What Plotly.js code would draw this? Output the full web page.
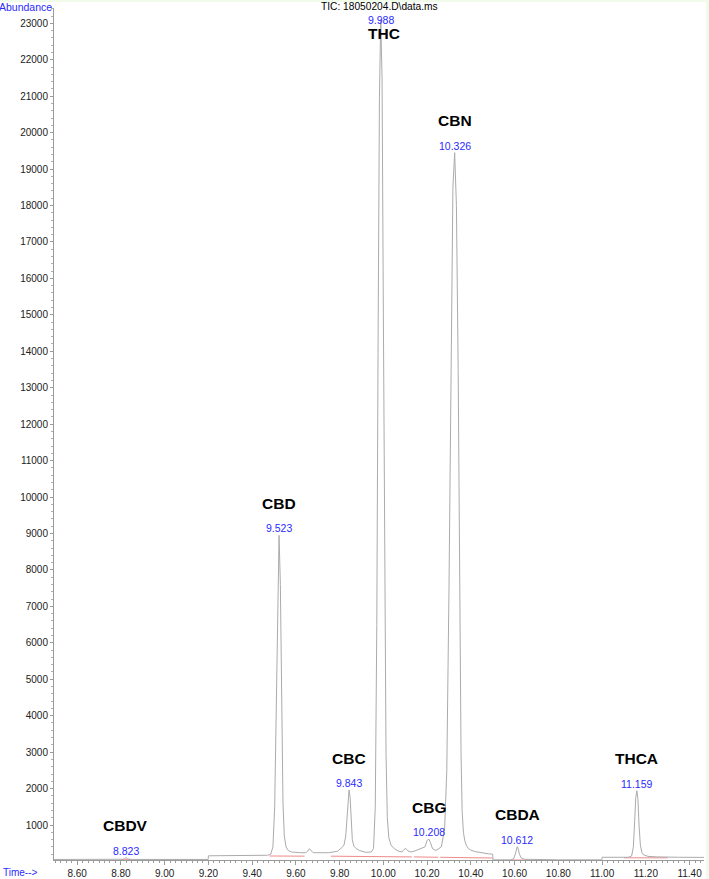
<!DOCTYPE html>
<html>
<head>
<meta charset="utf-8">
<script src="https://cdn.plot.ly/plotly-3.0.1.min.js"></script>
<style>
  html, body { margin: 0; padding: 0; background: #f1fbe9; width: 709px; height: 879px; overflow: hidden; }
  #chart { position: absolute; left: 0px; top: 2px; width: 706px; height: 877px; }
</style>
</head>
<body>
<div id="chart"></div>
<script>
// ---- Data ----
const chartTitle = 'TIC: 18050204.D\\data.ms';
const yLabel = 'Abundance';
const xLabel = 'Time-->';

// Total ion chromatogram (time in min, abundance)
const times = [
  8.494, 8.60, 8.70, 8.80, 8.81, 8.816, 8.823, 8.830, 8.837, 8.85, 9.00, 9.10, 9.199, 9.200,
  9.30, 9.40, 9.47, 9.485, 9.495, 9.503, 9.510, 9.517, 9.523, 9.529, 9.535, 9.541, 9.547, 9.555, 9.565, 9.58,
  9.62, 9.645, 9.655, 9.662, 9.670, 9.68, 9.75, 9.79, 9.81, 9.82, 9.828, 9.834, 9.839, 9.843, 9.848, 9.853,
  9.858, 9.865, 9.875, 9.89, 9.92, 9.945, 9.955, 9.963, 9.970, 9.976, 9.982, 9.988, 9.994, 10.000, 10.006,
  10.012, 10.018, 10.025, 10.035, 10.05, 10.07, 10.085, 10.095, 10.102, 10.11, 10.125, 10.14, 10.16, 10.175,
  10.19, 10.200, 10.208, 10.215, 10.225, 10.24, 10.265, 10.28, 10.29, 10.300, 10.310, 10.318, 10.326, 10.334,
  10.342, 10.350, 10.355, 10.360, 10.366, 10.373, 10.38, 10.39, 10.40, 10.42, 10.45, 10.48, 10.500, 10.501,
  10.58, 10.595, 10.603, 10.608, 10.612, 10.617, 10.622, 10.63, 10.645, 10.80, 10.999, 11.000,
  11.12, 11.135, 11.143, 11.149, 11.154, 11.159, 11.164, 11.169, 11.175, 11.182, 11.19, 11.21, 11.25, 11.35, 11.466
];
const abundance = [
  55, 55, 55, 55, 60, 80, 105, 80, 60, 55, 55, 55, 55, 155,
  158, 160, 170, 200, 400, 1500, 4500, 7800, 8950, 7600, 4200, 1600, 700, 400, 300, 260,
  240, 240, 290, 350, 290, 240, 240, 280, 380, 450, 700, 1300, 1800, 1960, 1750, 1100,
  600, 420, 360, 300, 250, 260, 350, 1500, 6500, 14500, 21000, 23100, 21500, 15000, 7500,
  3000, 1200, 650, 450, 350, 280, 260, 330, 360, 300, 260, 280, 320, 350,
  400, 580, 615, 520, 350, 300, 400, 900, 2500, 7500, 14000, 18500, 19450, 18000,
  13500, 6500, 3000, 1400, 800, 550, 430, 350, 310, 270, 235, 210, 200, 45,
  45, 70, 200, 350, 403, 340, 200, 100, 60, 45, 45, 115,
  115, 150, 400, 1100, 1750, 1940, 1700, 1000, 450, 250, 180, 140, 125, 115, 112
];

// Integration baselines (start/end time and abundance of each drawn segment)
const baseStartT = [8.80, 9.48, 9.76, 9.93, 10.14, 10.26, 10.585, 11.10];
const baseEndT   = [8.85, 9.64, 9.93, 10.13, 10.25, 10.50, 10.66, 11.30];
const baseStartV = [48, 150, 145, 135, 125, 115, 40, 100];
const baseEndV   = [48, 145, 135, 125, 115, 95, 40, 100];

// Identified peaks
const peakNames = ['CBDV', 'CBD', 'CBC', 'THC', 'CBG', 'CBN', 'CBDA', 'THCA'];
const peakTimes = [8.823, 9.523, 9.843, 9.988, 10.208, 10.326, 10.612, 11.159];

// ---- Build chart ----
const grayLine = '#ababab';
const redLine = '#f08a8a';
const blue = '#2a2aff';
const fontFam = '"Liberation Sans", Arial, Helvetica, sans-serif';

const traces = [];
for (let i = 0; i < baseStartT.length; i++) {
  traces.push({
    x: [baseStartT[i], baseEndT[i]],
    y: [baseStartV[i], baseEndV[i]],
    mode: 'lines', type: 'scatter',
    line: { color: redLine, width: 1 },
    hoverinfo: 'skip', showlegend: false
  });
}
traces.push({
  x: times, y: abundance,
  mode: 'lines', type: 'scatter',
  line: { color: grayLine, width: 1 },
  showlegend: false
});

function apexOf(rt) {
  let best = -Infinity;
  for (let i = 0; i < times.length; i++) {
    if (Math.abs(times[i] - rt) <= 0.004 && abundance[i] > best) best = abundance[i];
  }
  return best;
}

const annotations = [];
peakNames.forEach((name, i) => {
  const rt = peakTimes[i];
  const top = apexOf(rt);
  const atTop = name === 'THC';
  annotations.push({
    x: rt, y: top, xref: 'x', yref: 'y', showarrow: false,
    text: rt.toFixed(3), yanchor: 'middle', xanchor: 'center',
    yshift: atTop ? 0 : 7,
    font: { family: fontFam, size: 10.5, color: blue }
  });
  annotations.push({
    x: rt, y: top, xref: 'x', yref: 'y', showarrow: false,
    text: '<b>' + name + '</b>', yanchor: 'middle', xanchor: 'center',
    yshift: atTop ? -14 : 32, xshift: atTop ? 3 : 0,
    font: { family: fontFam, size: 15.5, color: '#000' }
  });
});

annotations.push({
  x: 0.5, y: 1, xref: 'paper', yref: 'paper', showarrow: false,
  text: chartTitle.replace(/\\/g, '&#92;'), yanchor: 'middle', xanchor: 'center', yshift: 2,
  font: { family: fontFam, size: 10.2, color: '#000' }
});
annotations.push({
  x: 0, y: 1, xref: 'paper', yref: 'paper', showarrow: false,
  text: yLabel, yanchor: 'middle', xanchor: 'right', xshift: 0, yshift: 1,
  font: { family: fontFam, size: 10.5, color: blue }
});
annotations.push({
  x: 0, y: 0, xref: 'paper', yref: 'paper', showarrow: false,
  text: xLabel, yanchor: 'middle', xanchor: 'left', xshift: -53, yshift: -12,
  font: { family: fontFam, size: 10, color: blue }
});

const layout = {
  width: 706, height: 877,
  margin: { l: 54, r: 2, t: 6, b: 19 },
  paper_bgcolor: '#ffffff',
  plot_bgcolor: '#ffffff',
  showlegend: false,
  xaxis: {
    range: [8.494, 11.466],
    tick0: 8.6, dtick: 0.2, tickformat: '.2f',
    ticks: 'outside', ticklen: 4, tickcolor: '#9a9a9a', tickwidth: 1,
    minor: { dtick: 0.025, ticks: 'outside', ticklen: 2, tickcolor: '#9a9a9a' },
    showline: true, linecolor: '#9a9a9a', linewidth: 1,
    showgrid: false, zeroline: false,
    tickfont: { family: fontFam, size: 10, color: '#222' }
  },
  yaxis: {
    range: [40, 23420],
    tick0: 0, dtick: 1000, tickformat: 'd',
    ticks: 'outside', ticklen: 3, tickcolor: '#9a9a9a', tickwidth: 1,
    minor: { dtick: 200, ticks: 'outside', ticklen: 2, tickcolor: '#b0b0b0' },
    showline: true, linecolor: '#9a9a9a', linewidth: 1,
    showgrid: false, zeroline: false,
    tickfont: { family: fontFam, size: 10, color: '#222' }
  },
  annotations: annotations
};

Plotly.newPlot('chart', traces, layout, { displayModeBar: false, staticPlot: true });
</script>
</body>
</html>
